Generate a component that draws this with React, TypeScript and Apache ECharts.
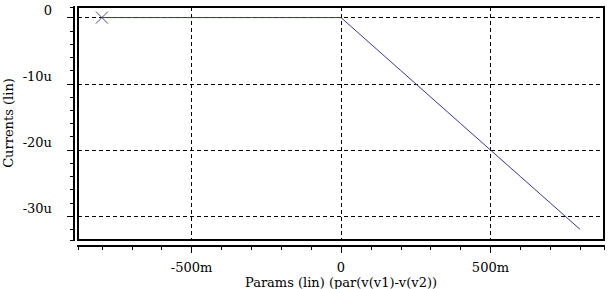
import React, { useEffect, useRef } from "react";
import * as echarts from "echarts";

// Sweep parameter (V) and resulting current (uA)
const params: number[] = [-0.8, -0.7, -0.6, -0.5, -0.4, -0.3, -0.2, -0.1, 0, 0.1, 0.2, 0.3, 0.4, 0.5, 0.6, 0.7, 0.8];
const currents: number[] = [0, 0, 0, 0, 0, 0, 0, 0, 0, -4, -8, -12, -16, -20, -24, -28, -32];

const xName = "Params (lin) (par(v(v1)-v(v2))";
const yName = "Currents (lin)";

const FONT = "DejaVu Serif";

export default function App() {
  const ref = useRef<HTMLDivElement>(null);
  useEffect(() => {
    if (!ref.current) return;
    const chart = echarts.init(ref.current, null, { renderer: "svg" });
    const seriesData = params.map((x, i) =>
      i === 0
        ? {
            value: [x, currents[i]],
            symbol: "path://M0,0L10,10M10,0L0,10",
            symbolSize: 12,
            itemStyle: { color: "none", borderColor: "#4a4a78", borderWidth: 1 },
          }
        : { value: [x, currents[i]] }
    );
    const xMin = -0.88, xMax = 0.88, yMin = -33.6, yMax = 1.6;
    chart.setOption({
      animation: false,
      backgroundColor: "#ffffff",
      textStyle: { fontFamily: FONT },
      grid: {
        left: 78,
        right: 6,
        top: 7,
        bottom: 49,
        show: true,
        borderColor: "#000",
        borderWidth: 2,
        containLabel: false,
        outerBoundsMode: "none",
      },
      graphic: [
        {
          type: "text",
          x: 8,
          y: 123,
          rotation: Math.PI / 2,
          style: {
            text: yName,
            fill: "#000",
            font: `13px "${FONT}"`,
            align: "center",
            verticalAlign: "middle",
          },
        },
        {
          type: "text",
          x: 341,
          y: 282,
          style: {
            text: xName,
            fill: "#000",
            font: `13px "${FONT}"`,
            align: "center",
            verticalAlign: "middle",
          },
        },
      ],
      xAxis: [
        {
          type: "value",
          position: "bottom",
          min: xMin,
          max: xMax,
          splitNumber: 3,
          offset: 6,
          axisLine: { show: true, onZero: false, lineStyle: { color: "#000", width: 2 } },
          axisTick: { show: true, length: 7, lineStyle: { color: "#000", width: 1 } },
          axisLabel: {
            showMinLabel: false,
            showMaxLabel: false,
            margin: 15,
            color: "#000",
            fontFamily: FONT,
            fontSize: 13,
            formatter: (v: number) => (v === 0 ? "0" : Math.round(v * 1000) + "m"),
          },
          splitLine: { show: true, lineStyle: { color: "#000", type: [4, 3], width: 1 } },
        },
        {
          type: "value",
          position: "bottom",
          min: xMin,
          max: xMax,
          splitNumber: 15,
          offset: 6,
          axisLine: { show: true, onZero: false, lineStyle: { color: "#000", width: 2 } },
          axisTick: { show: true, length: 4, lineStyle: { color: "#000", width: 1 } },
          axisLabel: { show: false },
          splitLine: { show: false },
        },
      ],
      yAxis: [
        {
          type: "value",
          position: "left",
          min: yMin,
          max: yMax,
          splitNumber: 4,
          offset: 4,
          axisLine: { show: true, onZero: false, lineStyle: { color: "#000", width: 2 } },
          axisTick: { show: true, length: 7, lineStyle: { color: "#000", width: 1 } },
          axisLabel: {
            showMinLabel: false,
            showMaxLabel: false,
            margin: 22,
            color: "#000",
            fontFamily: FONT,
            fontSize: 13,
            verticalAlign: "bottom",
            lineHeight: 15,
            formatter: (v: number) => (v === 0 ? "0" : Math.round(v) + "u"),
          },
          splitLine: { show: true, lineStyle: { color: "#000", type: [4, 3], width: 1 } },
        },
        {
          type: "value",
          position: "left",
          min: yMin,
          max: yMax,
          splitNumber: 16,
          offset: 4,
          axisLine: { show: true, onZero: false, lineStyle: { color: "#000", width: 2 } },
          axisTick: { show: true, length: 4, lineStyle: { color: "#000", width: 1 } },
          axisLabel: { show: false },
          splitLine: { show: false },
        },
      ],
      series: [
        {
          type: "line",
          xAxisIndex: 0,
          yAxisIndex: 0,
          data: seriesData,
          symbol: "none",
          showSymbol: true,
          lineStyle: { color: "#38388c", width: 1 },
          itemStyle: { color: "#38388c" },
          z: 5,
        },
      ],
    });
    return () => chart.dispose();
  }, []);
  return (
    <div
      ref={ref}
      style={{ position: "fixed", left: 0, top: 0, width: 610, height: 289, background: "#fff" }}
    />
  );
}
